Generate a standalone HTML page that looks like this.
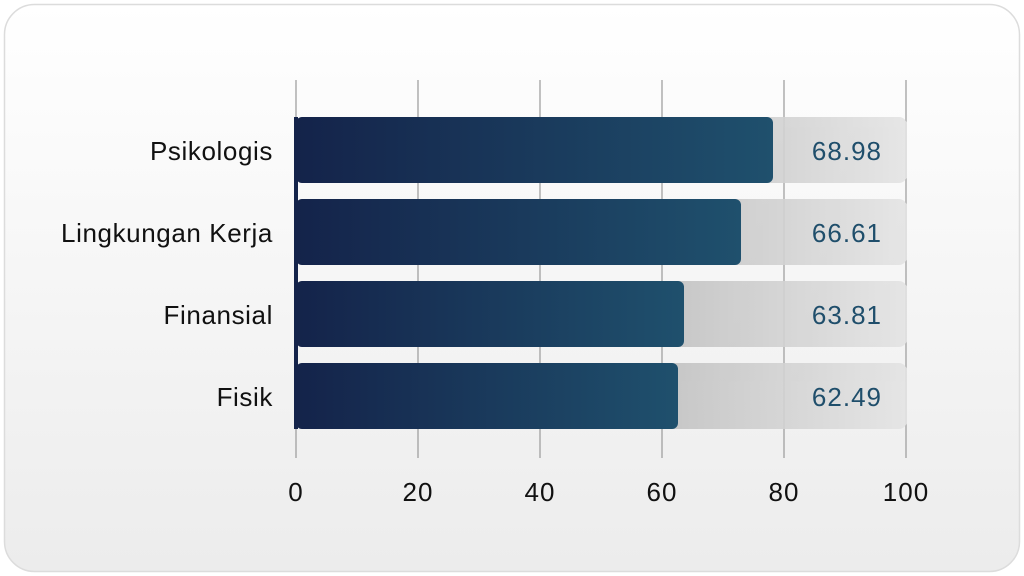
<!DOCTYPE html>
<html><head><style>
html,body{margin:0;padding:0;width:1024px;height:576px;background:#fff;overflow:hidden;font-family:"Liberation Sans",sans-serif}
</style></head><body>
<svg width="1024" height="576" xmlns="http://www.w3.org/2000/svg">
<defs>
<linearGradient id="card" x1="0" y1="0" x2="0" y2="1"><stop offset="0" stop-color="#ffffff"/><stop offset="1" stop-color="#ececec"/></linearGradient>
<linearGradient id="bar" x1="0" y1="0" x2="1" y2="0"><stop offset="0" stop-color="#14234a"/><stop offset="1" stop-color="#1f506d"/></linearGradient>
<linearGradient id="trk" x1="0.55" y1="0" x2="1" y2="0"><stop offset="0" stop-color="#bdbdbd"/><stop offset="1" stop-color="#e4e4e4"/></linearGradient>
</defs>
<rect x="4.5" y="4.5" width="1015" height="567" rx="30" fill="url(#card)" stroke="#dcdcdc" stroke-width="1.5"/>
<g stroke="#9a9a9a" stroke-width="1.2">
<line x1="296" y1="80" x2="296" y2="458"/><line x1="418" y1="80" x2="418" y2="458"/>
<line x1="540" y1="80" x2="540" y2="458"/><line x1="662" y1="80" x2="662" y2="458"/>
<line x1="784" y1="80" x2="784" y2="458"/><line x1="906" y1="80" x2="906" y2="458"/>
</g>
<g opacity="0.9">
<rect x="296" y="117" width="611" height="66" rx="8" fill="url(#trk)"/>
<rect x="296" y="199" width="611" height="66" rx="8" fill="url(#trk)"/>
<rect x="296" y="281" width="611" height="66" rx="8" fill="url(#trk)"/>
<rect x="296" y="363" width="611" height="66" rx="8" fill="url(#trk)"/>
</g>
<rect x="296" y="117" width="477" height="66" rx="6" fill="url(#bar)"/>
<rect x="296" y="199" width="445" height="66" rx="6" fill="url(#bar)"/>
<rect x="296" y="281" width="388" height="66" rx="6" fill="url(#bar)"/>
<rect x="296" y="363" width="382" height="66" rx="6" fill="url(#bar)"/>
<rect x="294" y="117" width="4" height="312" fill="#14234a"/>
<g font-size="26" fill="#1f4e6b" text-anchor="end" letter-spacing="1">
<text x="882" y="160">68.98</text><text x="882" y="242">66.61</text>
<text x="882" y="324">63.81</text><text x="882" y="406">62.49</text>
</g>
<g font-size="26" fill="#111" text-anchor="end" letter-spacing="0.6">
<text x="273" y="160">Psikologis</text><text x="273" y="242">Lingkungan Kerja</text>
<text x="273" y="324">Finansial</text><text x="273" y="406">Fisik</text>
</g>
<g font-size="26" fill="#111" text-anchor="middle" letter-spacing="1">
<text x="296" y="501">0</text><text x="418" y="501">20</text><text x="540" y="501">40</text>
<text x="662" y="501">60</text><text x="784" y="501">80</text><text x="906" y="501">100</text>
</g>
</svg>
</body></html>
